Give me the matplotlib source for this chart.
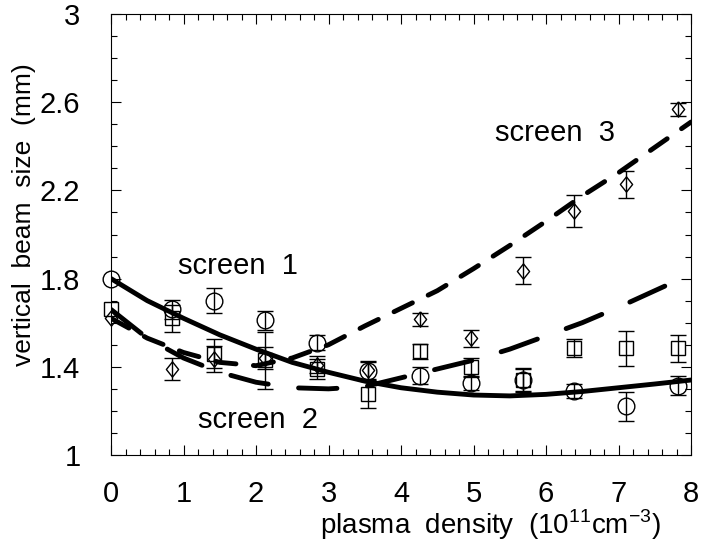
import numpy as np
import matplotlib
matplotlib.use("Agg")
import matplotlib.pyplot as plt
from matplotlib.ticker import MultipleLocator, FixedLocator

plt.rcParams['font.family'] = ['Liberation Sans', 'DejaVu Sans']
plt.rcParams['mathtext.fontset'] = 'custom'
plt.rcParams['mathtext.rm'] = 'Liberation Sans'

# ---- measured data -------------------------------------------------------
density = [0, 0.84, 1.42, 2.13, 2.84, 3.55, 4.26, 4.97, 5.68, 6.39, 7.10, 7.82]

screen1_size = [1.80, 1.66, 1.70, 1.61, 1.51, 1.38, 1.36, 1.325, 1.34, 1.29, 1.22, 1.315]
screen1_err = [0.0, 0.045, 0.057, 0.045, 0.035, 0.04, 0.04, 0.03, 0.05, 0.03, 0.065, 0.043]

screen2_size = [1.66, 1.62, 1.46, 1.43, 1.39, 1.275, 1.47, 1.40, 1.34, 1.484, 1.484, 1.484]
screen2_err = [0.0, 0.06, 0.065, 0.13, 0.045, 0.06, 0.035, 0.04, 0.055, 0.04, 0.08, 0.06]

screen3_size = [1.62, 1.39, 1.435, 1.44, 1.41, 1.385, 1.615, 1.53, 1.836, 2.107, 2.228, 2.568]
screen3_err = [0.0, 0.05, 0.06, 0.05, 0.04, 0.04, 0.03, 0.038, 0.06, 0.074, 0.061, 0.03]

# ---- fitted curves -------------------------------------------------------
curve_x = [0, 0.5, 1, 1.5, 2, 2.5, 3, 3.5, 4, 4.5, 5, 5.5, 6, 6.5, 7, 7.5, 8]
curve1 = [1.80, 1.70, 1.62, 1.545, 1.48, 1.42, 1.375, 1.335, 1.305, 1.285, 1.272,
          1.268, 1.275, 1.288, 1.305, 1.322, 1.34]
curve2 = [1.66, 1.53, 1.44, 1.375, 1.33, 1.305, 1.30, 1.31, 1.35, 1.39, 1.43,
          1.48, 1.54, 1.60, 1.67, 1.745, 1.82]
curve3 = [1.62, 1.53, 1.465, 1.42, 1.405, 1.44, 1.50, 1.585, 1.665, 1.745, 1.845,
          1.95, 2.06, 2.175, 2.28, 2.395, 2.51]

x_ticks = [0, 1, 2, 3, 4, 5, 6, 7, 8]
y_ticks = [1, 1.4, 1.8, 2.2, 2.6, 3]
y_tick_labels = ['1', '1.4', '1.8', '2.2', '2.6', '3']

# ---- figure --------------------------------------------------------------
fig = plt.figure(figsize=(7.01, 5.43), dpi=100)
ax = fig.add_axes([111 / 701, 1 - 455 / 543, 580 / 701, 441 / 543])

diamond = [(0, 1), (0.8, 0), (0, -1), (-0.8, 0), (0, 1)]

series = [
    (screen1_size, screen1_err, 'o', 12),
    (screen2_size, screen2_err, 's', 10),
    (screen3_size, screen3_err, diamond, 11),
]
x_arr = np.array(density)
for vals, errs, mk, ms in series:
    v = np.array(vals)
    e = np.array(errs)
    m = e > 0
    ax.errorbar(x_arr[m], v[m], yerr=e[m], fmt='none', ecolor='black',
                elinewidth=1.0, capsize=6, capthick=1.0, zorder=2)
    ax.plot(x_arr, v, linestyle='none', marker=mk, markersize=ms,
            markerfacecolor='none', markeredgecolor='black',
            markeredgewidth=1.0, zorder=3, clip_on=False)

ax.plot(curve_x, curve1, color='black', lw=3.5, solid_capstyle='round', zorder=4)
l2, = ax.plot(curve_x, curve2, color='black', lw=3.5, dash_capstyle='round', zorder=4)
l2.set_dashes([7.9, 6.3])
l3, = ax.plot(curve_x, curve3, color='black', lw=3.5, dash_capstyle='round', zorder=4)
l3.set_dashes([4.2, 3.6])

ax.set_xlim(0, 8)
ax.set_ylim(1, 3)
ax.xaxis.set_major_locator(FixedLocator(x_ticks))
ax.xaxis.set_minor_locator(MultipleLocator(0.2))
ax.yaxis.set_major_locator(FixedLocator(y_ticks))
ax.set_yticklabels(y_tick_labels)
ax.yaxis.set_minor_locator(MultipleLocator(0.1))

ax.tick_params(which='both', direction='in', top=True, right=True, width=0.8)
ax.tick_params(which='major', length=7)
ax.tick_params(which='minor', length=4)
ax.tick_params(axis='x', which='major', labelsize=21, pad=18)
ax.tick_params(axis='y', which='major', labelsize=21, pad=22)
for s in ax.spines.values():
    s.set_linewidth(0.8)

ax.set_ylabel('vertical  beam  size  (mm)', fontsize=19)
ax.yaxis.set_label_coords(-0.13, 0.544)
ax.set_xlabel('plasma  density  (10$^{\\mathregular{11}}$cm$^{\\mathregular{-3}}$)', fontsize=20)
ax.xaxis.set_label_coords(0.655, -0.118)

ax.text(0.92, 1.855, 'screen  1', fontsize=21, ha='left', va='center')
ax.text(1.20, 1.16, 'screen  2', fontsize=21, ha='left', va='center')
ax.text(5.30, 2.46, 'screen  3', fontsize=21, ha='left', va='center')

fig.savefig('out.png', dpi=100)
